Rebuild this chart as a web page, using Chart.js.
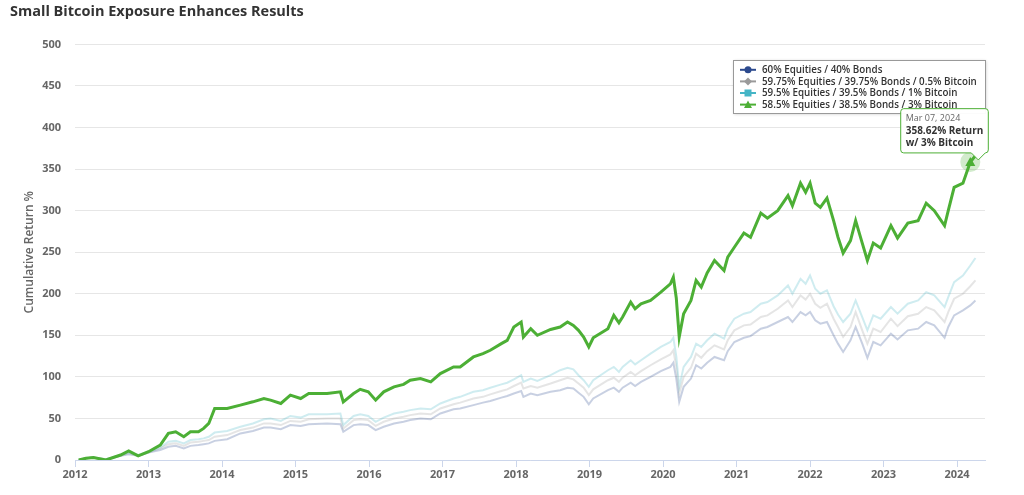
<!DOCTYPE html>
<html>
<head>
<meta charset="utf-8">
<script src="https://cdn.jsdelivr.net/npm/chart.js@4.4.1/dist/chart.umd.min.js"></script>
<style>
  html, body { margin: 0; padding: 0; background: #fff; }
  #wrap { position: relative; width: 1024px; height: 495px; }
</style>
</head>
<body>
<div id="wrap">
  <canvas id="c" width="1024" height="495"></canvas>
</div>
<script>
// ---- data ----
const chartTitle = "Small Bitcoin Exposure Enhances Results";
const yAxisTitle = "Cumulative Return %";
const seriesLabels = [
  "60% Equities / 40% Bonds",
  "59.75% Equities / 39.75% Bonds / 0.5% Bitcoin",
  "59.5% Equities / 39.5% Bonds / 1% Bitcoin",
  "58.5% Equities / 38.5% Bonds / 3% Bitcoin"
];
const xTickYears = [2012, 2013, 2014, 2015, 2016, 2017, 2018, 2019, 2020, 2021, 2022, 2023, 2024];
const yTicks = [0, 50, 100, 150, 200, 250, 300, 350, 400, 450, 500];
const tooltipDate = "Mar 07, 2024";
const tooltipLines = ["358.62% Return", "w/ 3% Bitcoin"];
const highlightDate = 2024.18;

const dates = [2012.05,2012.15,2012.25,2012.42,2012.62,2012.73,2012.86,2013.0,2013.16,2013.27,
  2013.37,2013.48,2013.57,2013.68,2013.75,2013.82,2013.9,2014.07,2014.25,2014.42,
  2014.57,2014.66,2014.8,2014.93,2015.07,2015.18,2015.43,2015.61,2015.65,2015.79,
  2015.88,2015.99,2016.09,2016.2,2016.34,2016.47,2016.56,2016.7,2016.84,2016.97,
  2017.15,2017.24,2017.42,2017.55,2017.65,2017.8,2017.88,2017.97,
  2018.07,2018.1,2018.2,2018.29,2018.47,2018.6,2018.7,2018.78,2018.85,2018.92,
  2018.99,2019.05,2019.25,2019.33,2019.4,2019.45,2019.56,2019.62,2019.7,2019.83,
  2019.97,2020.1,2020.14,2020.18,2020.22,2020.28,2020.38,2020.45,2020.52,2020.6,
  2020.7,2020.83,2020.88,2020.97,2021.1,2021.19,2021.33,2021.42,2021.56,2021.7,
  2021.76,2021.87,2021.94,2022.0,2022.07,2022.14,2022.23,2022.32,2022.38,2022.45,
  2022.55,2022.62,2022.71,2022.78,2022.86,2022.96,2023.1,2023.19,2023.33,2023.47,
  2023.58,2023.69,2023.83,2023.88,2023.96,2024.08,2024.18,2024.25];

const btc3 = [0,2,3,0,6,11,5,10,18,32,
  34,28,34,34,38,44,62,62,66,70,
  74,72,68,78,74,80,80,82,70,80,
  85,82,72,82,88,91,96,98,94,104,
  112,112,124,128,132,140,144,160,
  166,148,158,150,157,160,166,162,156,148,
  136,147,158,174,165,172,190,182,188,192,
  202,212,220,195,148,176,192,216,208,225,
  240,228,244,256,273,268,297,291,300,318,
  306,333,322,333,309,304,315,288,268,249,
  264,288,261,240,261,255,282,267,285,288,
  309,300,282,300,328,333,358.62,366];

const btc1 = [0,2,3,1,6,9,6,10,15,22,
  23,20,24,25,26,28,33,35,40,44,
  49,50,47,53,51,55,55,56,42,53,
  55,53,46,51,56,58,60,62,61,68,
  74,76,82,84,87,91,93,97,
  102,94,98,95,102,108,111,109,102,96,
  88,96,108,112,106,112,120,115,120,128,
  136,142,147,125,88,112,124,140,136,144,
  152,146,158,170,176,178,188,190,198,210,
  200,218,212,222,206,200,204,185,175,166,
  176,192,172,156,174,170,184,176,188,192,
  202,198,184,196,214,222,234,243];

const btc05 = [0,2,3,1,5,8,5,9,14,19,
  20,17,21,22,23,24,28,30,36,39,
  44,44,42,47,46,49,50,50,38,48,
  49,48,41,46,50,52,54,56,55,62,
  67,69,74,76,79,83,85,89,
  93,86,89,87,92,96,99,97,92,87,
  78,85,96,99,94,99,106,102,107,114,
  121,127,132,112,80,100,111,128,123,131,
  138,133,144,156,162,163,172,174,182,192,
  184,198,193,200,188,183,188,170,160,148,
  160,178,156,140,158,154,170,161,173,176,
  184,180,166,178,194,200,209,216];

const base6040 = [0,2,3,0,5,7,5,9,12,16,
  17,14,17,18,19,20,23,25,32,35,
  39,39,37,42,41,43,44,43,34,42,
  43,42,36,40,44,46,48,50,49,56,
  61,62,66,69,71,75,77,80,
  83,76,80,78,82,84,87,86,81,76,
  67,74,84,87,82,87,93,89,94,100,
  107,112,117,98,70,88,98,114,110,117,
  124,120,131,142,147,149,158,160,166,172,
  166,178,174,178,168,164,166,150,140,130,
  144,160,140,123,142,138,152,145,156,158,
  166,162,147,160,174,180,186,192];

const seriesColors = ["#2c4a8e", "#9a9a9a", "#45b5c6", "#4caf35"];
const lineColors = ["rgba(44,74,142,0.26)", "rgba(150,150,150,0.25)", "rgba(69,181,198,0.26)", "#4caf35"];
const markerShapes = ["circle", "diamond", "square", "triangle"];

// ---- chart ----
const seriesValues = [base6040, btc05, btc1, btc3];
const toPoints = vals => vals.map((v, i) => ({ x: dates[i], y: v }));
const hlIndex = dates.indexOf(highlightDate);
const greenIdx = 3;

Chart.Tooltip.positioners.fixedTip = function (items) {
  if (!items.length) return false;
  const el = items[0].element;
  return { x: el.x + 8, y: el.y };
};

function drawMarker(ctx, shape, x, y, color) {
  ctx.fillStyle = color;
  ctx.beginPath();
  if (shape === 'circle') ctx.arc(x, y, 3.5, 0, Math.PI * 2);
  if (shape === 'diamond') { ctx.moveTo(x, y - 4); ctx.lineTo(x + 4, y); ctx.lineTo(x, y + 4); ctx.lineTo(x - 4, y); }
  if (shape === 'square') ctx.rect(x - 3.5, y - 3.5, 7, 7);
  if (shape === 'triangle') { ctx.moveTo(x, y - 4); ctx.lineTo(x + 4, y + 3.5); ctx.lineTo(x - 4, y + 3.5); }
  ctx.closePath();
  ctx.fill();
}

const haloPlugin = {
  id: 'halo',
  afterDatasetsDraw(chart) {
    const el = chart.getDatasetMeta(greenIdx).data[hlIndex];
    if (!el) return;
    const ctx = chart.ctx;
    ctx.save();
    ctx.fillStyle = 'rgba(76,175,53,0.25)';
    ctx.beginPath(); ctx.arc(el.x, el.y, 10, 0, Math.PI * 2); ctx.fill();
    ctx.fillStyle = seriesColors[greenIdx];
    ctx.beginPath();
    ctx.moveTo(el.x, el.y - 5); ctx.lineTo(el.x + 5, el.y + 4); ctx.lineTo(el.x - 5, el.y + 4);
    ctx.closePath(); ctx.fill();
    ctx.restore();
  }
};

// legend box drawn inside the plot, under the tooltip
const boxLegendPlugin = {
  id: 'boxLegend',
  afterDatasetsDraw(chart) {
    const ctx = chart.ctx;
    const bx = 733, by = 60, bw = 252, bh = 53, rowH = 11.6;
    ctx.save();
    ctx.shadowColor = 'rgba(0,0,0,0.22)';
    ctx.shadowOffsetX = 1; ctx.shadowOffsetY = 1; ctx.shadowBlur = 3;
    ctx.fillStyle = '#fff';
    ctx.fillRect(bx, by, bw, bh);
    ctx.shadowColor = 'transparent';
    ctx.strokeStyle = '#999'; ctx.lineWidth = 1;
    ctx.strokeRect(bx + 0.5, by + 0.5, bw, bh);
    ctx.font = '600 9.8px "Open Sans"';
    ctx.textBaseline = 'middle';
    chart.data.datasets.forEach((d, i) => {
      const y = by + 9.8 + i * rowH;
      ctx.strokeStyle = seriesColors[i]; ctx.lineWidth = 2;
      ctx.beginPath(); ctx.moveTo(bx + 7, y); ctx.lineTo(bx + 23, y); ctx.stroke();
      drawMarker(ctx, markerShapes[i], bx + 15, y, seriesColors[i]);
      ctx.fillStyle = '#333';
      ctx.fillText(d.label, bx + 29, y + 0.5);
    });
    ctx.restore();
  }
};

const chart = new Chart(document.getElementById('c'), {
  type: 'line',
  data: {
    datasets: seriesValues.map((vals, i) => ({
      label: seriesLabels[i],
      data: toPoints(vals),
      borderColor: lineColors[i],
      backgroundColor: lineColors[i],
      borderWidth: i === greenIdx ? 3 : 2,
      pointRadius: 0,
      pointHoverRadius: 0,
      tension: 0,
      fill: false,
      order: 3 - i
    }))
  },
  options: {
    responsive: false,
    animation: false,
    devicePixelRatio: 1,
    events: [],
    layout: { padding: { left: 10, right: 39, top: 0, bottom: 0 } },
    plugins: {
      legend: { display: false },
      title: {
        display: true, text: chartTitle, align: 'start', color: '#333',
        font: { family: 'Open Sans', size: 14.5, weight: '700' },
        padding: { top: 3, bottom: 24 }
      },
      tooltip: {
        enabled: true,
        position: 'fixedTip',
        xAlign: 'right', yAlign: 'bottom',
        backgroundColor: 'rgba(255,255,255,0.96)',
        borderColor: seriesColors[greenIdx], borderWidth: 1,
        cornerRadius: 3, caretSize: 7, caretPadding: 2,
        displayColors: false,
        padding: { top: 4, bottom: 4, left: 5, right: 5 },
        titleColor: '#666', titleFont: { family: 'Open Sans', size: 9, weight: '400', lineHeight: 1.25 },
        titleMarginBottom: 1,
        bodyColor: '#333', bodyFont: { family: 'Open Sans', size: 10, weight: '700', lineHeight: 1.2 },
        bodySpacing: 0,
        callbacks: {
          title: () => tooltipDate,
          label: () => tooltipLines
        }
      }
    },
    scales: {
      x: {
        type: 'linear', min: 2012, max: 2024.38,
        afterFit: s => { s.height = 35; },
        afterBuildTicks: s => { s.ticks = xTickYears.map(v => ({ value: v })); },
        ticks: { includeBounds: false, stepSize: 1, color: '#666', padding: 1,
          font: { family: 'Open Sans', size: 11, weight: '700' },
          callback: v => String(v), maxRotation: 0, autoSkip: false },
        grid: { display: true, drawOnChartArea: false, drawTicks: true, tickLength: 7, color: '#ccd6eb' },
        border: { display: true, color: '#ccd6eb', width: 1 }
      },
      y: {
        min: 0, max: 500,
        afterFit: s => { s.width = 65; },
        afterBuildTicks: s => { s.ticks = yTicks.map(v => ({ value: v })); },
        ticks: { color: '#666', padding: 14,
          font: { family: 'Open Sans', size: 11, weight: '700' } },
        grid: { color: '#e6e6e6', drawTicks: false, lineWidth: 1 },
        border: { display: false },
        title: { display: true, text: yAxisTitle, color: '#666',
          font: { family: 'Open Sans', size: 12, weight: '600' },
          padding: { top: 12, bottom: 0 } }
      }
    }
  },
  plugins: [haloPlugin, boxLegendPlugin]
});

chart.tooltip.setActiveElements([{ datasetIndex: greenIdx, index: hlIndex }],
  { x: 0, y: 0 });
chart.update();
</script>
</body>
</html>
